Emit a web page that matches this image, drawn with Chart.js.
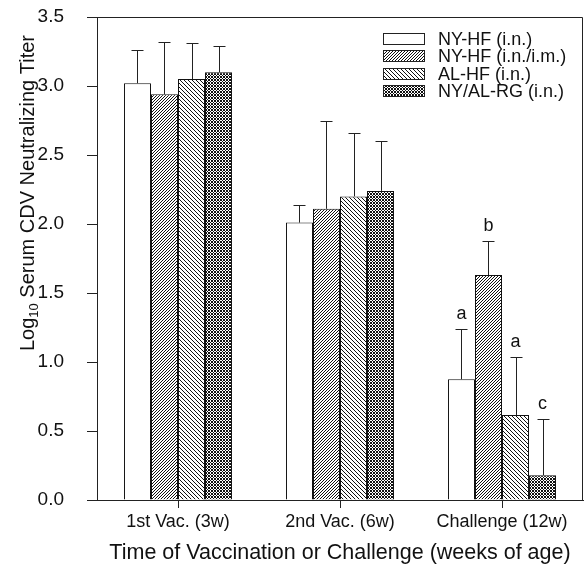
<!DOCTYPE html>
<html>
<head>
<meta charset="utf-8">
<script src="https://cdn.jsdelivr.net/npm/chart.js@4.4.0/dist/chart.umd.min.js"></script>
<style>
  body { margin: 0; background: #fff; }
  #wrap { width: 586px; height: 574px; }
</style>
</head>
<body>
<div id="wrap"><canvas id="titerChart"></canvas></div>
<script>
// values (log10 titer, mean and error bar length)
const categories = ['1st Vac. (3w)', '2nd Vac. (6w)', 'Challenge (12w)'];
const seriesNames = ['NY-HF (i.n.)', 'NY-HF (i.n./i.m.)', 'AL-HF (i.n.)', 'NY/AL-RG (i.n.)'];
const nyHfIn = [3.02, 2.01, 0.875];
const nyHfInIm = [2.94, 2.11, 1.63];
const alHfIn = [3.05, 2.20, 0.616];
const nyAlRgIn = [3.10, 2.24, 0.18];
const nyHfInErr = [0.24, 0.13, 0.365];
const nyHfInImErr = [0.38, 0.64, 0.25];
const alHfInErr = [0.26, 0.46, 0.42];
const nyAlRgInErr = [0.19, 0.36, 0.405];
const challengeLetters = ['a', 'b', 'a', 'c'];
const yAxisTitle = ['Log', '10', ' Serum CDV Neutralizing Titer'];
const xAxisTitle = 'Time of Vaccination or Challenge (weeks of age)';

const FONT = '"Liberation Sans", Arial, sans-serif';
const INK = '#111';

const canvas = document.getElementById('titerChart');
const mainCtx = canvas.getContext('2d');

// pixel patterns, like the old hatch fills
function makePattern(size, test) {
  const tile = document.createElement('canvas');
  tile.width = size; tile.height = size;
  const g = tile.getContext('2d');
  g.fillStyle = '#fff';
  g.fillRect(0, 0, size, size);
  g.fillStyle = '#111';
  for (let x = 0; x < size; x++) {
    for (let y = 0; y < size; y++) {
      if (test(x, y)) g.fillRect(x, y, 1, 1);
    }
  }
  return mainCtx.createPattern(tile, 'repeat');
}

const fills = [
  '#ffffff',
  makePattern(3, (x, y) => (x + y) % 3 === 2),
  makePattern(4, (x, y) => (x - y + 4) % 4 === 0),
  makePattern(3, (x, y) => (x + y) % 3 === 0 || (x - y + 3) % 3 === 0)
];

const errorBars = {
  id: 'errorBars',
  afterDatasetsDraw(chart) {
    const ctx = chart.ctx;
    const y = chart.scales.y;
    ctx.save();
    ctx.strokeStyle = '#222';
    ctx.lineWidth = 1;
    chart.data.datasets.forEach((ds, di) => {
      chart.getDatasetMeta(di).data.forEach((bar, i) => {
        const top = Math.round(y.getPixelForValue(ds.data[i] + ds.errors[i])) + 0.5;
        const x = Math.round(bar.x) + 0.5;
        ctx.beginPath();
        ctx.moveTo(x, bar.y);
        ctx.lineTo(x, top);
        ctx.moveTo(x - 6, top);
        ctx.lineTo(x + 6, top);
        ctx.stroke();
      });
    });
    // significance letters over the challenge group
    ctx.fillStyle = INK;
    ctx.font = '18px ' + FONT;
    ctx.textAlign = 'center';
    ctx.textBaseline = 'alphabetic';
    chart.data.datasets.forEach((ds, di) => {
      const bar = chart.getDatasetMeta(di).data[2];
      const top = y.getPixelForValue(ds.data[2] + ds.errors[2]);
      ctx.fillText(challengeLetters[di], bar.x, top - 10);
    });
    ctx.restore();
  }
};

const frameAndLegend = {
  id: 'frameAndLegend',
  afterDraw(chart) {
    const ctx = chart.ctx;
    const a = chart.chartArea;
    ctx.save();
    ctx.strokeStyle = '#222';
    ctx.lineWidth = 1;
    ctx.beginPath();
    ctx.moveTo(Math.round(a.left) - 0.5, Math.round(a.top) + 0.5);
    ctx.lineTo(Math.round(a.right) - 0.5, Math.round(a.top) + 0.5);
    ctx.lineTo(Math.round(a.right) - 0.5, Math.round(a.bottom));
    ctx.stroke();

    // legend in the top right corner
    ctx.font = '18px ' + FONT;
    ctx.textAlign = 'left';
    ctx.textBaseline = 'middle';
    chart.data.datasets.forEach((ds, i) => {
      const cy = 39 + i * 17.3;
      ctx.fillStyle = ds.backgroundColor;
      ctx.fillRect(383, Math.round(cy - 6), 42, 12);
      ctx.strokeRect(383.5, Math.round(cy - 6) + 0.5, 41, 11);
      ctx.fillStyle = INK;
      ctx.fillText(ds.label, 438, cy + 1);
    });

    // y title with a real subscript
    ctx.translate(28, 193);
    ctx.rotate(-Math.PI / 2);
    const big = '20px ' + FONT, small = '13px ' + FONT;
    ctx.font = big;
    const w0 = ctx.measureText(yAxisTitle[0]).width;
    const w2 = ctx.measureText(yAxisTitle[2]).width;
    ctx.font = small;
    const w1 = ctx.measureText(yAxisTitle[1]).width;
    let x = -(w0 + w1 + w2) / 2;
    ctx.font = big;
    ctx.fillText(yAxisTitle[0], x, 0);
    ctx.font = small;
    ctx.fillText(yAxisTitle[1], x + w0, 6);
    ctx.font = big;
    ctx.fillText(yAxisTitle[2], x + w0 + w1, 0);
    ctx.restore();
  }
};

new Chart(canvas, {
  type: 'bar',
  data: {
    labels: categories,
    datasets: [
      { label: seriesNames[0], data: nyHfIn, errors: nyHfInErr, backgroundColor: fills[0] },
      { label: seriesNames[1], data: nyHfInIm, errors: nyHfInImErr, backgroundColor: fills[1] },
      { label: seriesNames[2], data: alHfIn, errors: alHfInErr, backgroundColor: fills[2] },
      { label: seriesNames[3], data: nyAlRgIn, errors: nyAlRgInErr, backgroundColor: fills[3] }
    ].map(ds => Object.assign(ds, {
      borderColor: '#111',
      borderWidth: 1,
      categoryPercentage: 0.667,
      barPercentage: 1.0
    }))
  },
  options: {
    responsive: true,
    maintainAspectRatio: false,
    animation: false,
    devicePixelRatio: 1,
    layout: { padding: { top: 17, right: 3, left: 0, bottom: 0 } },
    plugins: {
      legend: { display: false },
      tooltip: { enabled: false }
    },
    scales: {
      x: {
        offset: true,
        ticks: { padding: 3, color: INK, font: { size: 18, family: FONT } },
        grid: { offset: false, drawOnChartArea: false, tickLength: 8, color: '#222' },
        border: { color: '#222' },
        title: {
          display: true,
          text: xAxisTitle,
          color: INK,
          font: { size: 21.5, family: FONT },
          padding: { top: 0, bottom: 8 }
        },
        afterFit: s => { s.height = 74; }
      },
      y: {
        min: 0,
        max: 3.5,
        ticks: {
          stepSize: 0.5,
          padding: 23,
          color: INK,
          font: { size: 19, family: FONT },
          callback: v => v.toFixed(1)
        },
        grid: { drawOnChartArea: false, tickLength: 10, color: '#222' },
        border: { color: '#222' },
        afterFit: s => {
          s.width = 97;
          // tick padding would otherwise push the plot top down
          s.paddingTop = 0;
          s.paddingBottom = 0;
        }
      }
    }
  },
  plugins: [errorBars, frameAndLegend]
});
</script>
</body>
</html>
